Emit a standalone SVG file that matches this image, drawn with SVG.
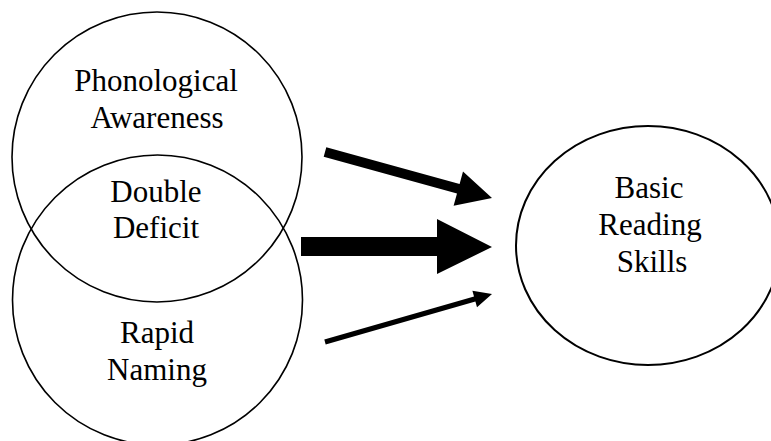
<svg xmlns="http://www.w3.org/2000/svg" width="771" height="441" viewBox="0 0 771 441">
<style>
.node{fill:none;stroke:#000;stroke-width:1.6}
.lbl{font-family:"Liberation Serif","Times New Roman",serif;font-size:31px;fill:#000;text-anchor:middle}
.arr{fill:#000;stroke:none}
</style>
<rect width="771" height="441" fill="#fff"/>
<g id="phonological">
<circle class="node" cx="157" cy="157" r="145"/>
<text class="lbl" x="156" y="91">Phonological</text>
<text class="lbl" x="157" y="128">Awareness</text>
</g>
<g id="rapid">
<circle class="node" cx="157.5" cy="300" r="145"/>
<text class="lbl" x="157" y="343">Rapid</text>
<text class="lbl" x="157" y="380">Naming</text>
</g>
<g id="double">
<text class="lbl" x="156" y="202">Double</text>
<text class="lbl" x="156" y="238">Deficit</text>
</g>
<g id="basic">
<ellipse class="node" cx="648" cy="245.5" rx="132" ry="119.5" style="stroke-width:2"/>
<text class="lbl" x="649" y="198">Basic</text>
<text class="lbl" x="650" y="235">Reading</text>
<text class="lbl" x="652" y="272">Skills</text>
</g>
<g id="connectors">
<polygon class="arr" points="326.3,147.2 459.6,183.9 463,171.6 492,198 453.6,205.8 457,193.5 323.7,156.8"/>
<polygon class="arr" points="301,237 437,237 437,219 492,247 437,274 437,256 301,256"/>
<polygon class="arr" points="324.3,339.6 474,296.6 472.4,290.8 492,294 477,307.2 475.4,301.4 325.7,344.4"/>
</g>
</svg>
